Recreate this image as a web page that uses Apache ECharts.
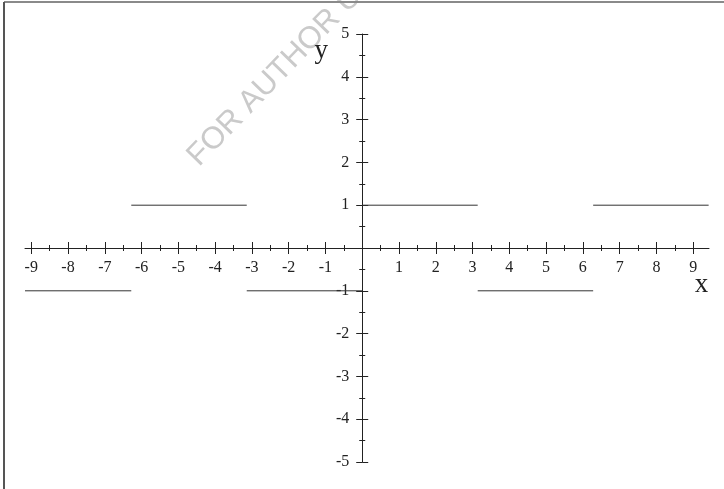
<!DOCTYPE html>
<html>
<head>
<meta charset="utf-8">
<script src="https://cdn.jsdelivr.net/npm/echarts@6/dist/echarts.min.js"></script>
<style>
  html, body { margin: 0; padding: 0; background: #fff; }
  #chart { width: 724px; height: 489px; }
</style>
</head>
<body>
<div id="chart"></div>
<script>
// Square wave: breakpoints along x and the level held on each interval between them
const xEdges = [-9.17, -6.28, -3.14, 0, 3.14, 6.28, 9.42];
const levels = [-1, 1, -1, 1, -1, 1];

// Axis extents and labelled tick ranges
const xRange = [-9.17, 9.43];
const xTickRange = [-9, 9];
const yRange = [-5, 5];
const tickStep = 1;

// Layout of the plotting area (pixels)
const W = 724, H = 489;
const plotLeft = 25, plotRight = 709, plotTop = 34, plotBottom = 462;
const pxPerUnit = (plotRight - plotLeft) / (xRange[1] - xRange[0]);
const zeroX = plotLeft + (0 - xRange[0]) * pxPerUnit;
const zeroY = plotTop + (yRange[1] / (yRange[1] - yRange[0])) * (plotBottom - plotTop);
const tickLeft = zeroX + xTickRange[0] * pxPerUnit;
const tickRight = zeroX + xTickRange[1] * pxPerUnit;

// Offsets that move the tick axes from the grid edges onto the origin lines
const offBottom = zeroY - plotBottom;
const offTop = plotTop - zeroY;
const offLeft = tickLeft - zeroX;
const offRight = zeroX - tickRight;

const ink = '#222';
const serif = 'Liberation Serif';
const hideZero = v => (v === 0 ? '' : String(v));
const lineStyle = { color: ink, width: 1 };
const tickStyle = { show: true, length: 6, lineStyle: lineStyle };
const minorStyle = { show: true, splitNumber: 2, length: 3, lineStyle: lineStyle };
const labelStyle = { fontFamily: serif, fontSize: 16, color: ink, formatter: hideZero };

// One line series per constant piece
const series = levels.map((v, i) => ({
  type: 'line',
  xAxisIndex: 0,
  yAxisIndex: 0,
  data: [[xEdges[i], v], [xEdges[i + 1], v]],
  symbol: 'none',
  lineStyle: { color: '#333', width: 1 },
  silent: true,
  z: 3
}));

const chart = echarts.init(document.getElementById('chart'), null, { renderer: 'canvas' });
chart.setOption({
  animation: false,
  backgroundColor: '#fff',
  grid: [
    { left: plotLeft, right: W - plotRight, top: plotTop, bottom: H - plotBottom },
    { left: tickLeft, right: W - tickRight, top: plotTop, bottom: H - plotBottom }
  ],
  xAxis: [
    {
      gridIndex: 0, type: 'value', min: xRange[0], max: xRange[1],
      axisLine: { show: true, onZero: true, lineStyle: lineStyle },
      axisTick: { show: false }, axisLabel: { show: false }, splitLine: { show: false }
    },
    {
      gridIndex: 1, type: 'value', position: 'bottom', offset: offBottom,
      min: xTickRange[0], max: xTickRange[1], interval: tickStep,
      axisLine: { show: false, onZero: false },
      axisTick: tickStyle, minorTick: minorStyle,
      axisLabel: Object.assign({ margin: 12 }, labelStyle),
      splitLine: { show: false }, minorSplitLine: { show: false }
    },
    {
      gridIndex: 1, type: 'value', position: 'top', offset: offTop,
      min: xTickRange[0], max: xTickRange[1], interval: tickStep,
      axisLine: { show: false, onZero: false },
      axisTick: tickStyle, minorTick: minorStyle,
      axisLabel: { show: false }, splitLine: { show: false }
    }
  ],
  yAxis: [
    {
      gridIndex: 0, type: 'value', min: yRange[0], max: yRange[1],
      axisLine: { show: false, onZero: true },
      axisTick: { show: false }, axisLabel: { show: false }, splitLine: { show: false }
    },
    {
      gridIndex: 1, type: 'value', position: 'left', offset: offLeft,
      min: yRange[0], max: yRange[1], interval: tickStep,
      axisLine: { show: true, onZero: false, lineStyle: lineStyle },
      axisTick: tickStyle, minorTick: minorStyle,
      axisLabel: Object.assign({ margin: 13 }, labelStyle),
      splitLine: { show: false }
    },
    {
      gridIndex: 1, type: 'value', position: 'right', offset: offRight,
      min: yRange[0], max: yRange[1], interval: tickStep,
      axisLine: { show: false, onZero: false },
      axisTick: tickStyle, minorTick: minorStyle,
      axisLabel: { show: false }, splitLine: { show: false }
    }
  ],
  series: series,
  graphic: [
    // frame
    { type: 'line', shape: { x1: 4, y1: 2, x2: W, y2: 2 }, style: { stroke: '#8a8a8a', lineWidth: 2 }, z: 10 },
    { type: 'line', shape: { x1: 4, y1: 2, x2: 4, y2: H }, style: { stroke: '#555', lineWidth: 2 }, z: 10 },
    // watermark
    {
      type: 'text', x: 204, y: 172, rotation: 46 * Math.PI / 180, z: 0,
      style: { text: 'FOR AUTHOR USE ONLY', font: '31px "Liberation Sans"', fill: '#cacaca', align: 'left', verticalAlign: 'bottom' }
    },
    // axis names
    {
      type: 'text', x: plotRight - 7.5, y: zeroY + 37, z: 10,
      style: { text: 'x', font: '27px "Liberation Serif"', fill: ink, align: 'center', verticalAlign: 'middle' }
    },
    {
      type: 'text', x: zeroX - 41, y: plotTop + 17, z: 10,
      style: { text: 'y', font: '27px "Liberation Serif"', fill: ink, align: 'center', verticalAlign: 'middle' }
    }
  ]
});
</script>
</body>
</html>
